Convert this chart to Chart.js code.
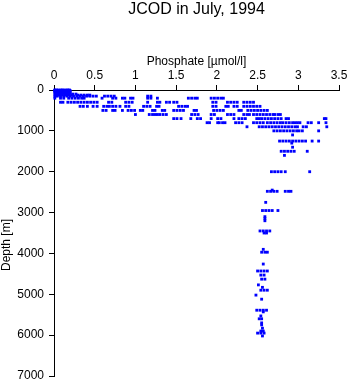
<!DOCTYPE html>
<html>
<head>
<meta charset="utf-8">
<script src="https://cdn.jsdelivr.net/npm/chart.js@4"></script>
<style>
    body { margin: 0; background: #fff; }
    canvas { display: block; }
</style>
</head>
<body>
<canvas id="chart" width="350" height="384"></canvas>
<script>
// Sampling depths [m]
const depths = [0, 10, 20, 30, 50, 75, 100, 125, 150, 200, 300, 400, 500, 600, 700, 800, 900, 1000,
    1100, 1250, 1300, 1400, 1500, 1600, 2000, 2450, 2480, 2750, 2950, 3100, 3150, 3200, 3450, 3500,
    3900, 3970, 4260, 4430, 4530, 4630, 4770, 4830, 4900, 5020, 5120, 5390, 5430, 5530, 5600, 5700,
    5750, 5830, 5900, 5950, 6020];

// Phosphate readings [umol/l] at each depth, one list per depth
const phosphate = [
    [0.01, 0.03, 0.05, 0.08, 0.10, 0.12, 0.15, 0.17, 0.19],
    [0.01, 0.04, 0.06, 0.09, 0.11, 0.14, 0.16, 0.19],
    [0.02, 0.04, 0.07, 0.09, 0.12, 0.14, 0.17, 0.20],
    [0.01, 0.03, 0.06, 0.08, 0.11, 0.13, 0.16, 0.18],
    [0.01, 0.04, 0.07, 0.10, 0.13, 0.16, 0.19],
    [0.02, 0.05, 0.08, 0.11, 0.14, 0.17, 0.20],
    [0.01, 0.04, 0.07, 0.10, 0.13, 0.16, 0.19, 0.23, 0.27],
    [0.02, 0.06, 0.10, 0.14, 0.18, 0.22, 0.29, 0.33, 0.37, 0.41, 0.44],
    [0.01, 0.04, 0.08, 0.12, 0.16, 0.20, 0.24, 0.28, 0.32, 0.36, 0.40, 0.44, 0.48, 0.52, 0.62, 0.66, 0.70, 0.74, 1.15, 1.19],
    [0.01, 0.08, 0.12, 0.18, 0.22, 0.26, 0.30, 0.34, 0.37, 0.59, 0.72, 0.76, 0.84, 0.87, 0.94, 0.97, 1.15, 1.19, 1.27,
        1.65, 1.69, 1.73, 1.76, 1.93, 1.97, 2.01, 2.05, 2.08],
    [0.08, 0.11, 0.17, 0.21, 0.25, 0.29, 0.33, 0.37, 0.41, 0.45, 0.49, 0.53, 0.67, 0.71, 0.88, 0.92, 0.96, 1.15,
        1.27, 1.30, 1.38, 1.42, 1.47, 1.51, 1.95, 1.99, 2.13, 2.17, 2.21, 2.25, 2.33, 2.37, 2.41, 2.45],
    [0.32, 0.36, 0.41, 0.48, 0.53, 0.61, 0.65, 0.68, 0.72, 0.76, 0.81, 0.88, 0.92, 1.10, 1.14, 1.18, 1.26, 1.29,
        1.53, 1.57, 1.61, 1.64, 1.95, 1.99, 2.11, 2.14, 2.21, 2.25, 2.33, 2.37, 2.41, 2.45, 2.49, 2.53],
    [0.60, 0.64, 0.72, 0.75, 0.84, 0.91, 0.95, 0.99, 1.06, 1.09, 1.21, 1.24, 1.33, 1.36, 1.47, 1.51, 1.55, 1.59,
        1.72, 1.75, 1.96, 2.00, 2.04, 2.08, 2.27, 2.30, 2.38, 2.42, 2.46, 2.50, 2.54, 2.58, 2.62],
    [1.00, 1.17, 1.21, 1.24, 1.27, 1.30, 1.34, 1.38, 1.69, 1.73, 1.77, 1.93, 1.97, 2.13, 2.17, 2.21, 2.33, 2.37,
        2.40, 2.45, 2.49, 2.53, 2.57, 2.61, 2.65, 2.69, 2.71, 2.75, 2.78],
    [1.47, 1.51, 1.56, 1.68, 1.76, 1.80, 1.93, 2.01, 2.05, 2.21, 2.27, 2.31, 2.35, 2.49, 2.52, 2.55, 2.59, 2.63,
        2.67, 2.71, 2.75, 2.79, 2.85, 2.88, 3.32, 3.34],
    [1.88, 1.91, 2.01, 2.03, 2.07, 2.10, 2.23, 2.27, 2.31, 2.45, 2.49, 2.53, 2.57, 2.62, 2.66, 2.70, 2.74, 2.78,
        2.81, 2.85, 2.89, 2.93, 2.96, 2.99, 3.02, 3.12, 3.16, 3.25, 3.34],
    [2.37, 2.52, 2.56, 2.60, 2.64, 2.68, 2.72, 2.76, 2.80, 2.84, 2.88, 2.92, 2.96, 2.99, 3.06, 3.10, 3.35],
    [2.70, 2.74, 2.78, 2.82, 2.86, 2.90, 2.94, 2.98, 3.01, 3.05, 3.25],
    [2.93],
    [2.77, 2.81, 2.85, 2.89, 2.93, 2.97, 3.01, 3.05, 3.09, 3.17, 3.25],
    [2.92],
    [2.93],
    [2.79, 2.83, 2.87, 2.91, 2.95, 3.11],
    [2.83],
    [2.67, 2.71, 2.75, 2.79, 2.84, 3.14],
    [2.68],
    [2.62, 2.66, 2.70, 2.74, 2.84, 2.88, 2.91],
    [2.60],
    [2.56, 2.60, 2.64, 2.68, 2.75],
    [2.59],
    [2.59],
    [2.59],
    [2.53, 2.57, 2.61, 2.65],
    [2.58, 2.61],
    [2.57],
    [2.55, 2.59, 2.62],
    [2.57],
    [2.50, 2.54, 2.58, 2.62],
    [2.54, 2.58],
    [2.55, 2.59],
    [2.51],
    [2.56],
    [2.54, 2.58, 2.62],
    [2.48],
    [2.55],
    [2.49, 2.53, 2.57, 2.61],
    [2.57],
    [2.54],
    [2.52, 2.55],
    [2.55],
    [2.55],
    [2.56],
    [2.54, 2.57],
    [2.50, 2.54, 2.58],
    [2.56]
];

const titleText = "JCOD in July, 1994";
const xTitle = "Phosphate [\u00b5mol/l]";
const yTitle = "Depth [m]";

const points = [];
depths.forEach((d, i) => {
    phosphate[i].forEach(p => points.push({ x: p, y: d }));
});

const fontFamily = "'Liberation Sans', Arial, Helvetica, sans-serif";
Chart.defaults.font.family = fontFamily;
Chart.defaults.color = "#000";

// y axis title, placed where the original has it
const yTitlePlugin = {
    id: "yTitle",
    afterDraw(chart) {
        const ctx = chart.ctx;
        ctx.save();
        ctx.translate(7, 245);
        ctx.rotate(-Math.PI / 2);
        ctx.font = "12px " + fontFamily;
        ctx.fillStyle = "#000";
        ctx.textAlign = "center";
        ctx.textBaseline = "middle";
        ctx.fillText(yTitle, 0, 0);
        ctx.restore();
    }
};

const ctx = document.getElementById("chart").getContext("2d");
new Chart(ctx, {
    type: "scatter",
    data: {
        datasets: [{
            data: points,
            backgroundColor: "#0000ff",
            borderColor: "#0000ff",
            borderWidth: 0,
            pointStyle: "rect",
            pointRadius: 2,
            pointHoverRadius: 2,
            clip: false
        }]
    },
    options: {
        responsive: false,
        animation: false,
        layout: { padding: { left: 0, right: 11, top: 0, bottom: 8 } },
        plugins: {
            legend: { display: false },
            tooltip: { enabled: false },
            title: {
                display: true,
                fullSize: false,
                text: titleText,
                color: "#000",
                font: { size: 16, weight: "normal" },
                padding: { top: 0, bottom: 0 }
            }
        },
        scales: {
            x: {
                type: "linear",
                position: "top",
                min: 0,
                max: 3.5,
                ticks: { stepSize: 0.5, padding: 2, font: { size: 12 }, maxRotation: 0, callback: v => String(v) },
                grid: { drawOnChartArea: false, drawTicks: true, tickLength: 5, color: "#000" },
                border: { display: true, color: "#000" },
                title: { display: true, text: xTitle, font: { size: 12 }, padding: { top: 35, bottom: 0 } },
                afterFit: scale => {
                    scale.height = 90 - 19.2;
                    scale.paddingLeft = 0;
                    scale.paddingRight = 0;
                }
            },
            y: {
                type: "linear",
                reverse: true,
                min: 0,
                max: 7000,
                ticks: { stepSize: 1000, padding: 5, font: { size: 12 }, callback: v => String(v) },
                grid: { drawOnChartArea: false, drawTicks: true, tickLength: 5, color: "#000" },
                border: { display: true, color: "#000" },
                afterFit: scale => {
                    scale.width = 54;
                    scale.paddingTop = 0;
                    scale.paddingBottom = 0;
                }
            }
        }
    },
    plugins: [yTitlePlugin]
});
</script>
</body>
</html>
